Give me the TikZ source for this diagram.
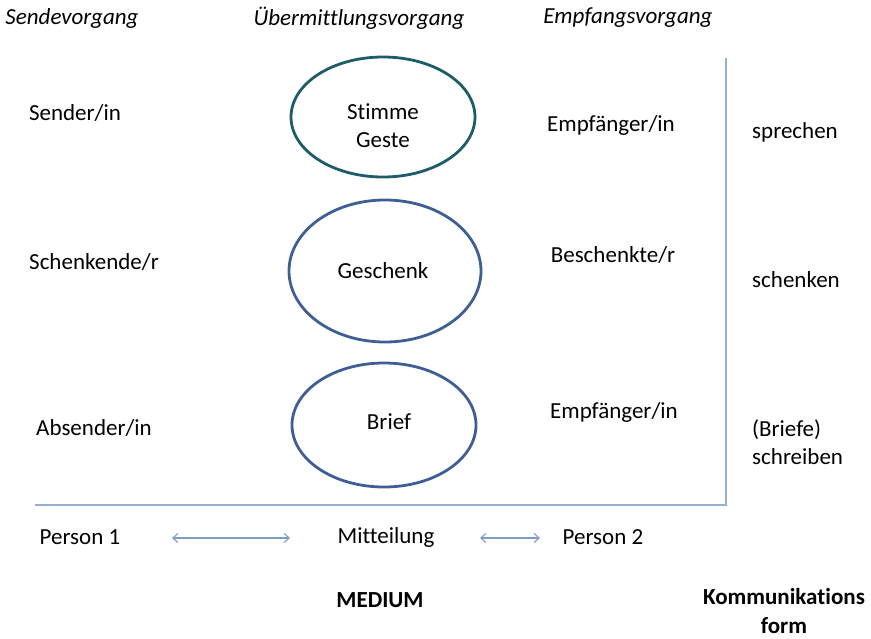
\documentclass[tikz,border=0pt]{standalone}
\usepackage{fontspec}
\setmainfont{Carlito}[Ligatures=NoCommon]
\usetikzlibrary{shapes.geometric,arrows.meta}
\definecolor{rahmen}{HTML}{95B0D0}
\definecolor{pfeil}{HTML}{7F9CC6}
\definecolor{petrol}{HTML}{1F5C6A}
\definecolor{blaugrau}{HTML}{3E5F96}
\tikzset{
  txt/.style={font=\fontsize{23}{27}\selectfont,inner sep=0pt},
  kopf/.style={txt,font=\fontsize{23}{27}\selectfont\itshape},
  fett/.style={txt,font=\fontsize{23}{29}\selectfont\bfseries,align=center},
  medium/.style={ellipse,draw,line width=2.8pt,inner sep=0pt},
}
\begin{document}
\begin{tikzpicture}[x=1pt,y=-1pt]
  \useasboundingbox (0,0) rectangle (871,638);
  % Kopfzeile
  \node[kopf] (hsend) at (72,18) {Sendevorgang};
  \node[kopf] (huebm) at (359,18) {Übermittlungsvorgang};
  \node[kopf] (hempf) at (628,18) {Empfangsvorgang};
  % Sender
  \node[txt] (sender) at (75,113) {Sender/in};
  \node[txt] (schenk) at (94,262) {Schenkende/r};
  \node[txt] (absend) at (94,428) {Absender/in};
  % Medien
  \node[medium,draw=petrol,minimum width=184pt,minimum height=120pt] (e1) at (383,117) {};
  \node[txt,align=center,font=\fontsize{23}{28}\selectfont] at (383,126) {Stimme\\Geste};
  \node[medium,draw=blaugrau,minimum width=192pt,minimum height=142pt] (e2) at (385,271) {};
  \node[txt] at (383,271) {Geschenk};
  \node[medium,draw=blaugrau,minimum width=184pt,minimum height=124pt] (e3) at (384,425) {};
  \node[txt] at (389,422) {Brief};
  % Empfaenger
  \node[txt] (empf1) at (611,125) {Empfänger/in};
  \node[txt] (besch) at (613,255) {Beschenkte/r};
  \node[txt] (empf2) at (614,412) {Empfänger/in};
  % Kommunikationsform
  \node[txt,anchor=west] (spr) at (752,132) {sprechen};
  \node[txt,anchor=west] (schk) at (752,280) {schenken};
  \node[txt,anchor=west,align=left,font=\fontsize{23}{28}\selectfont] (schr) at (752,442) {(Briefe)\\schreiben};
  % Rahmen
  \coordinate (oben) at (726,58);
  \coordinate (ecke) at (726,505);
  \coordinate (links) at (35,505);
  \draw[rahmen,line width=1.6pt] (oben) -- (ecke) -- (links);
  % untere Zeile
  \node[txt] (p1) at (80,537) {Person 1};
  \node[txt] (mitt) at (386,537) {Mitteilung};
  \node[txt] (p2) at (603,537) {Person 2};
  \coordinate (a1) at (172,538);
  \coordinate (b1) at (290,538);
  \coordinate (a2) at (480,538);
  \coordinate (b2) at (540,538);
  \draw[pfeil,line width=1.1pt,{Straight Barb[length=5pt,width=9pt]}-{Straight Barb[length=5pt,width=9pt]}] (a1) -- (b1);
  \draw[pfeil,line width=1.1pt,{Straight Barb[length=5pt,width=9pt]}-{Straight Barb[length=5pt,width=9pt]}] (a2) -- (b2);
  \node[fett] (med) at (380,600) {MEDIUM};
  \node[fett,anchor=north] (kform) at (784,588) {Kommunikations\\form};
\end{tikzpicture}
\end{document}
